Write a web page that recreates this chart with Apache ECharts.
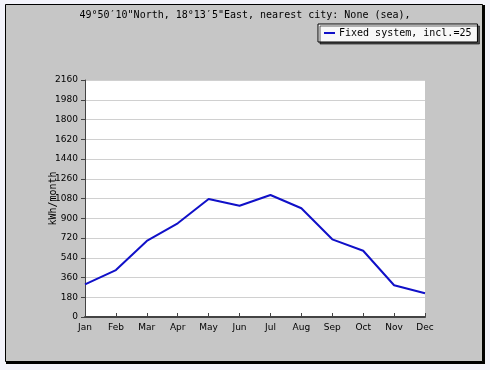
<!DOCTYPE html>
<html><head><meta charset="utf-8">
<script src="https://cdn.jsdelivr.net/npm/echarts@6/dist/echarts.min.js"></script>
<style>html,body{margin:0;padding:0;background:#f3f3fb;}#c{width:490px;height:370px;}</style>
</head><body><div id="c"></div>
<script>
var months = ['Jan','Feb','Mar','Apr','May','Jun','Jul','Aug','Sep','Oct','Nov','Dec'];
var energy = [298, 428, 693, 854, 1075, 1014, 1112, 991, 708, 604, 289, 216];
var yTicks = [0,180,360,540,720,900,1080,1260,1440,1620,1800,1980,2160];
var titleText = '49°50′10"North, 18°13′5"East, nearest city: None (sea),';
var seriesName = 'Fixed system, incl.=25';
var yName = 'kWh/month';

var chart = echarts.init(document.getElementById('c'), null, {renderer:'canvas'});
chart.setOption({
  backgroundColor: '#f3f3fb',
  animation: false,
  graphic: [
    {type:'rect', shape:{x:6,y:5,width:479,height:359}, style:{fill:'#000'}, z:-11},
    {type:'rect', shape:{x:5.5,y:4.5,width:477,height:357}, style:{fill:'#c6c6c6', stroke:'#000', lineWidth:1}, z:-10}
  ],
  title: {
    text: titleText, left: 'center', top: 5,
    textStyle: {fontFamily:'DejaVu Sans Mono', fontSize:10, fontWeight:'normal', color:'#000'}
  },
  legend: {
    left: 318, top: 24, width: 159, height: 12,
    padding: [4,6,4,6],
    backgroundColor: '#f8f8f8', borderColor: '#000', borderWidth: 1,
    shadowColor: 'rgba(0,0,0,0.6)', shadowOffsetX: 2, shadowOffsetY: 2, shadowBlur: 0,
    icon: 'rect', itemWidth: 11, itemHeight: 2, itemGap: 4,
    textStyle: {fontFamily:'DejaVu Sans Mono', fontSize:10, color:'#000', padding:[0,0,0,-1]},
    data: [seriesName]
  },
  grid: {left: 85, top: 80, right: 65, bottom: 53, show: true, backgroundColor: '#fff', borderWidth: 0},
  xAxis: {
    type: 'category', data: months, boundaryGap: false,
    axisLine: {lineStyle:{color:'#444', width:2}},
    axisTick: {inside: true, length: 4, lineStyle:{color:'#444'}},
    axisLabel: {fontFamily:'DejaVu Sans', fontSize:9, color:'#000', margin:6, interval:0},
    splitLine: {show:false}
  },
  yAxis: {
    type: 'value', min: 0, max: 2160, interval: 180,
    name: yName, nameLocation: 'middle', nameGap: 27, nameRotate: 90,
    nameMoveOverlap: false,
    nameTextStyle: {fontFamily:'DejaVu Sans Mono', fontSize:10, color:'#000'},
    axisLine: {show:true, lineStyle:{color:'#444', width:1}},
    axisTick: {show:true, length: 4, lineStyle:{color:'#444'}},
    axisLabel: {fontFamily:'DejaVu Sans', fontSize:9, color:'#000', margin:7,
      formatter: function(v){ return yTicks.indexOf(v) >= 0 ? String(v) : ''; }},
    splitLine: {show:true, lineStyle:{color:'#d0d0d0', width:1}}
  },
  series: [{
    name: seriesName, type: 'line', data: energy,
    showSymbol: false, symbol: 'none',
    lineStyle: {color:'#1010c8', width:2},
    itemStyle: {color:'#1010c8'}
  }]
});
</script></body></html>
